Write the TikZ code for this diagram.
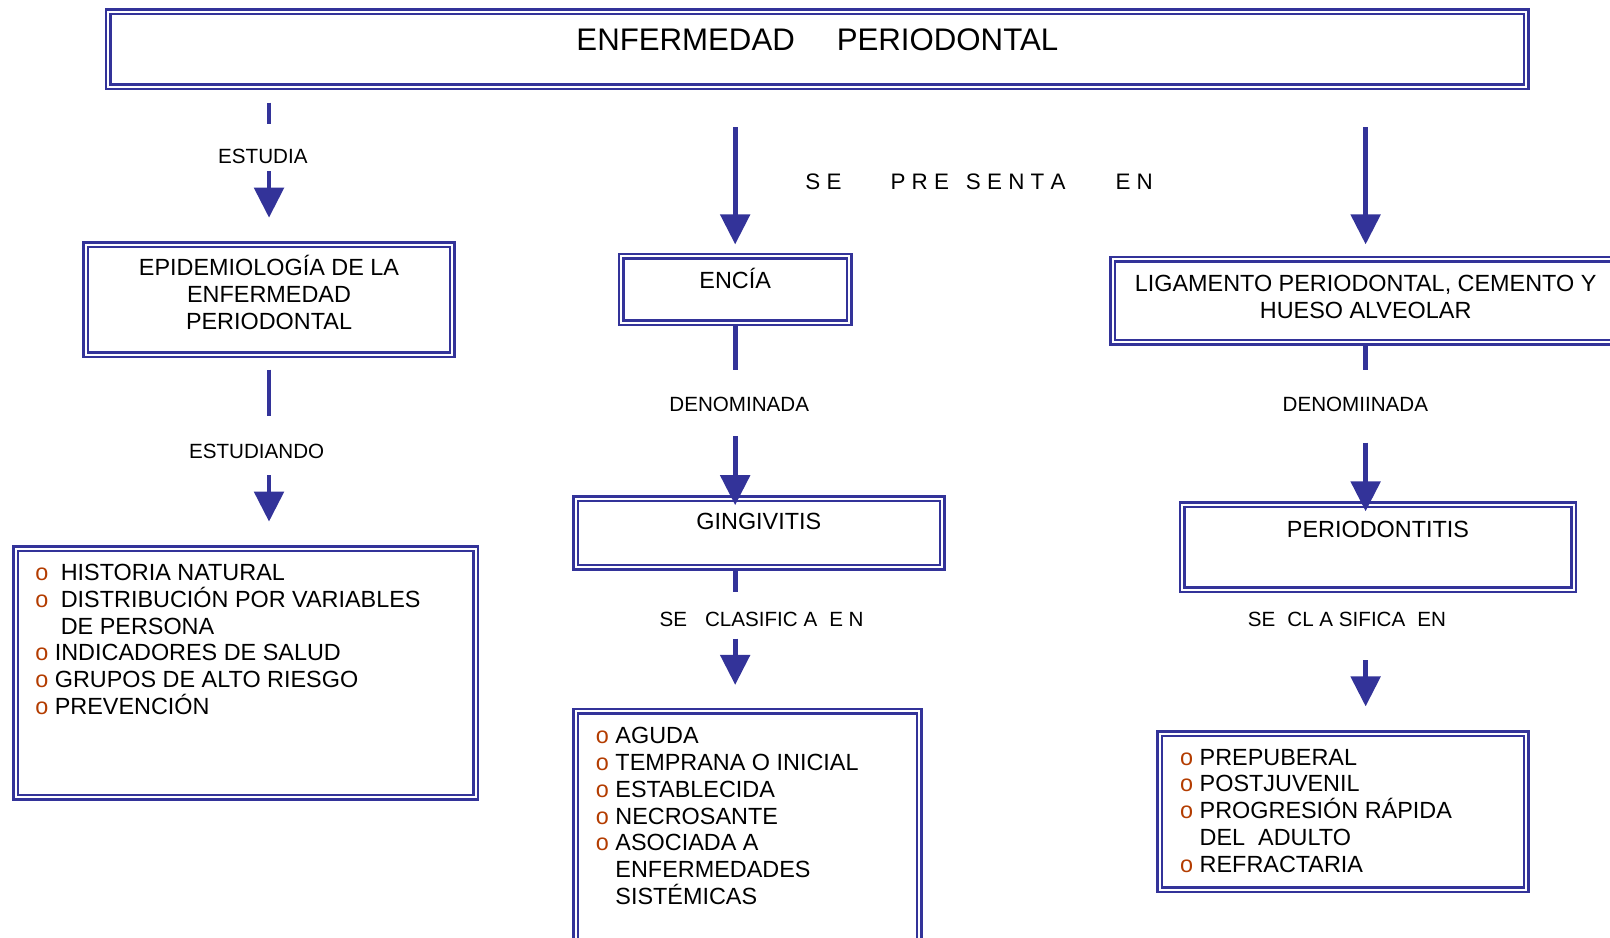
\documentclass[tikz,border=0pt]{standalone}
\usepackage{fontspec}
\setmainfont{Liberation Sans}
\usetikzlibrary{arrows.meta}
\definecolor{perioblue}{RGB}{51,51,153}
\definecolor{bulletbrown}{RGB}{179,60,0}
\newcommand{\bul}{{\color{bulletbrown}o}\ }
\newcommand{\sangria}{\phantom{o}\ }

\begin{document}
\begin{tikzpicture}[x=0.5134pt,y=-0.5134pt,>={Triangle[width=14.6pt,length=15pt]},
  dbox/.style={draw=perioblue,double=white,line width=1.25pt,double distance=1pt,inner sep=0},
  box/.style 2 args={dbox,minimum width=#1*0.5134pt,minimum height=#2*0.5134pt},
  bar/.style={perioblue,line width=2.4pt},
  boxtext/.style={font=\fontsize{11.7pt}{13.45pt}\selectfont,align=center,inner sep=0},
  listtext/.style={font=\fontsize{11.7pt}{13.4pt}\selectfont,align=left,inner sep=0},
  lbl/.style={font=\fontsize{10.3pt}{12pt}\selectfont,inner sep=0}]
  \useasboundingbox (0,0) rectangle (1568,913);
  \coordinate (l1) at (262,100);
  \coordinate (l2) at (262,121);
  \coordinate (l3) at (262,167);
  \coordinate (l4) at (262,212);
  \coordinate (l5) at (262,360);
  \coordinate (l6) at (262,405);
  \coordinate (l7) at (262,463);
  \coordinate (l8) at (262,508);
  \coordinate (m1) at (716,124);
  \coordinate (m2) at (716,238);
  \coordinate (m3) at (716,360);
  \coordinate (m4) at (716,425);
  \coordinate (m5) at (716,492);
  \coordinate (m6) at (716,556);
  \coordinate (m7) at (716,577);
  \coordinate (m8) at (716,622);
  \coordinate (m9) at (716,667);
  \coordinate (r1) at (1330,124);
  \coordinate (r2) at (1330,238);
  \coordinate (r3) at (1330,360);
  \coordinate (r4) at (1330,431);
  \coordinate (r5) at (1330,498);
  \coordinate (r6) at (1330,643);
  \coordinate (r7) at (1330,688);
  \node[box={1381}{73}] (titulo) at (796,48) {};
  \node[box={357}{107}] (epid) at (262,292) {};
  \node[box={448}{242}] (historia) at (239.5,655.5) {};
  \node[box={222}{65}] (encia) at (716,282) {};
  \node[box={357}{67}] (gingivitis) at (739,519) {};
  \node[box={335}{236}] (tiposg) at (728,810.5) {};
  \node[box={493}{81}] (ligamento) at (1330,293) {};
  \node[box={381}{83}] (periodontitis) at (1342,533) {};
  \node[box={357}{152}] (tiposp) at (1308,790.5) {};
  \node[font=\fontsize{15.6pt}{18pt}\selectfont,inner sep=0,anchor=base] at (796,49) {ENFERMEDAD\hspace{21pt}PERIODONTAL};
  \node[boxtext,anchor=north] at (262,248) {EPIDEMIOLOGÍA DE LA\\ENFERMEDAD\\PERIODONTAL};
  \node[boxtext,anchor=base] at (716,281) {ENCÍA};
  \node[boxtext,anchor=base] at (739,516) {GINGIVITIS};
  \node[boxtext,anchor=north] at (1330,268) {LIGAMENTO PERIODONTAL, CEMENTO Y\\HUESO ALVEOLAR};
  \node[boxtext,anchor=base] at (1342,523) {PERIODONTITIS};
  \node[listtext,anchor=north west] at (34,549) {\bul\hspace{3pt}HISTORIA NATURAL\\ \bul\hspace{3pt}DISTRIBUCIÓN POR VARIABLES\\ \sangria\hspace*{3pt}DE PERSONA\\ \bul INDICADORES DE SALUD\\ \bul GRUPOS DE ALTO RIESGO\\ \bul PREVENCIÓN};
  \node[listtext,anchor=north west] at (580,708) {\bul AGUDA\\ \bul TEMPRANA O INICIAL\\ \bul ESTABLECIDA\\ \bul NECROSANTE\\ \bul ASOCIADA A\\ \sangria ENFERMEDADES\\ \sangria SISTÉMICAS};
  \node[listtext,anchor=north west] at (1149,729) {\bul PREPUBERAL\\ \bul POSTJUVENIL\\ \bul PROGRESIÓN RÁPIDA\\ \sangria DEL\hspace{6.5pt}ADULTO\\ \bul REFRACTARIA};
  \node[lbl,anchor=base] (estudia) at (256,159) {ESTUDIA};
  \node[lbl,anchor=base] (estudiando) at (250,447) {ESTUDIANDO};
  \node[font=\fontsize{11.2pt}{13pt}\selectfont,inner sep=0,anchor=base west] (presenta) at (784,185) {S E\hspace{24.5pt}P R E\hspace{8.5pt}S E N T A\hspace{25pt}E N};
  \node[lbl,anchor=base] (denominada) at (720,401) {DENOMINADA};
  \node[lbl,anchor=base west] (clasificag) at (642,610) {SE\hspace{9pt}CLASIFIC A\hspace{6pt}E N};
  \node[lbl,anchor=base] (denomiinada) at (1320,401) {DENOMIINADA};
  \node[lbl,anchor=base west] (clasificap) at (1215,610) {SE\hspace{6pt}CL A SIFICA\hspace{6pt}EN};
  \draw[bar] (l1) -- (l2);
  \draw[bar,->] (l3) -- (l4);
  \draw[bar] (l5) -- (l6);
  \draw[bar,->] (l7) -- (l8);
  \draw[bar,->] (m1) -- (m2);
  \draw[bar] (encia.south) -- (m3);
  \draw[bar,->] (m4) -- (m5);
  \draw[bar] (m6) -- (m7);
  \draw[bar,->] (m8) -- (m9);
  \draw[bar,->] (r1) -- (r2);
  \draw[bar] (ligamento.south) -- (r3);
  \draw[bar,->] (r4) -- (r5);
  \draw[bar,->] (r6) -- (r7);
\end{tikzpicture}
\end{document}
